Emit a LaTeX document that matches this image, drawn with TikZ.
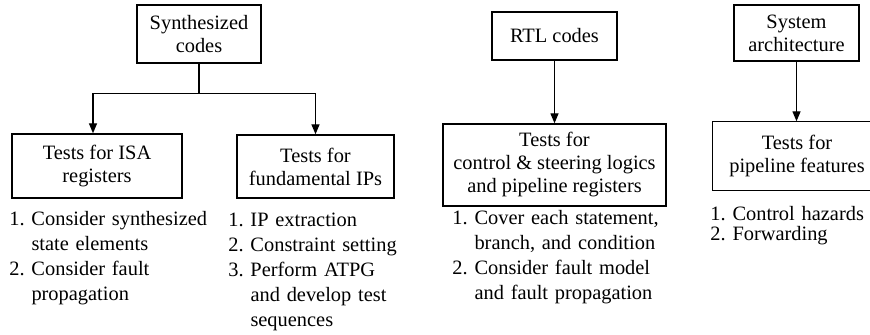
\documentclass[tikz,border=0pt]{standalone}
\usepackage{fontspec}
\setmainfont{Liberation Serif}
\usetikzlibrary{arrows.meta}
\frenchspacing
\tikzset{
  box/.style={draw, line width=0.7pt, inner sep=0pt, align=center,
    font=\fontsize{10.2}{11.5}\selectfont},
  openbox/.style={box, draw=none},
  steplist/.style={anchor=base west, inner sep=0pt, text width=125pt, align=left,
    font=\fontsize{10.2}{12.5}\selectfont},
  conn/.style={line width=0.7pt},
  arr/.style={conn, -{Triangle[length=5pt,width=4pt]}},
}
\begin{document}
\begin{tikzpicture}[x=0.5pt,y=-0.5pt]
\useasboundingbox (0,0) rectangle (870,335);
\clip (0,0) rectangle (870,335);
% boxes
\node[box, minimum width=62pt, minimum height=29pt] (synth) at (199,34) {Synthesized\\codes};
\node[box, minimum width=85pt, minimum height=32pt] (isa) at (97,166) {Tests for ISA\\registers};
\node[box, minimum width=78.5pt, minimum height=31.5pt] (ips) at (315.5,166.5) {Tests for\\fundamental IPs};
\node[box, minimum width=62.5pt, minimum height=24pt] (rtl) at (554.5,36) {RTL codes};
\node[box, minimum width=111.5pt, minimum height=41pt] (ctrl) at (554.5,165) {Tests for\\control \& steering logics\\and pipeline registers};
\node[box, minimum width=62.5pt, minimum height=28pt] (sys) at (796.5,33) {System\\architecture};
\node[openbox, minimum width=84pt, minimum height=34pt] (pipe) at (797,156) {Tests for\\pipeline features};
\draw[conn] ([xshift=20pt]pipe.north east) -- (pipe.north west) -- (pipe.south west) -- ([xshift=20pt]pipe.south east);
% connectors
\path (synth.south) ++(0,30) coordinate (j);
\draw[conn] (synth.south) -- (j);
\draw[arr] (j) -| ([xshift=-2pt]isa.north);
\draw[arr] (j) -| (ips.north);
\draw[arr] (rtl.south) -- (rtl.south |- ctrl.north);
\draw[arr] (sys.south) -- (sys.south |- pipe.north);
% lists
\node[steplist] (l1) at (9,226) {1. Consider synthesized\\\phantom{1.} state elements\\2. Consider fault\\\phantom{2.} propagation};
\node[steplist] (l2) at (228,227) {1. IP extraction\\2. Constraint setting\\3. Perform ATPG\\\phantom{3.} and develop test\\\phantom{3.} sequences};
\node[steplist] (l3) at (452,225) {1. Cover each statement,\\\phantom{1.} branch, and condition\\2. Consider fault model\\\phantom{2.} and fault propagation};
\node[steplist, font=\fontsize{10.2}{9.8}\selectfont] (l4) at (710,221) {1. Control hazards\\2. Forwarding};
\end{tikzpicture}
\end{document}
